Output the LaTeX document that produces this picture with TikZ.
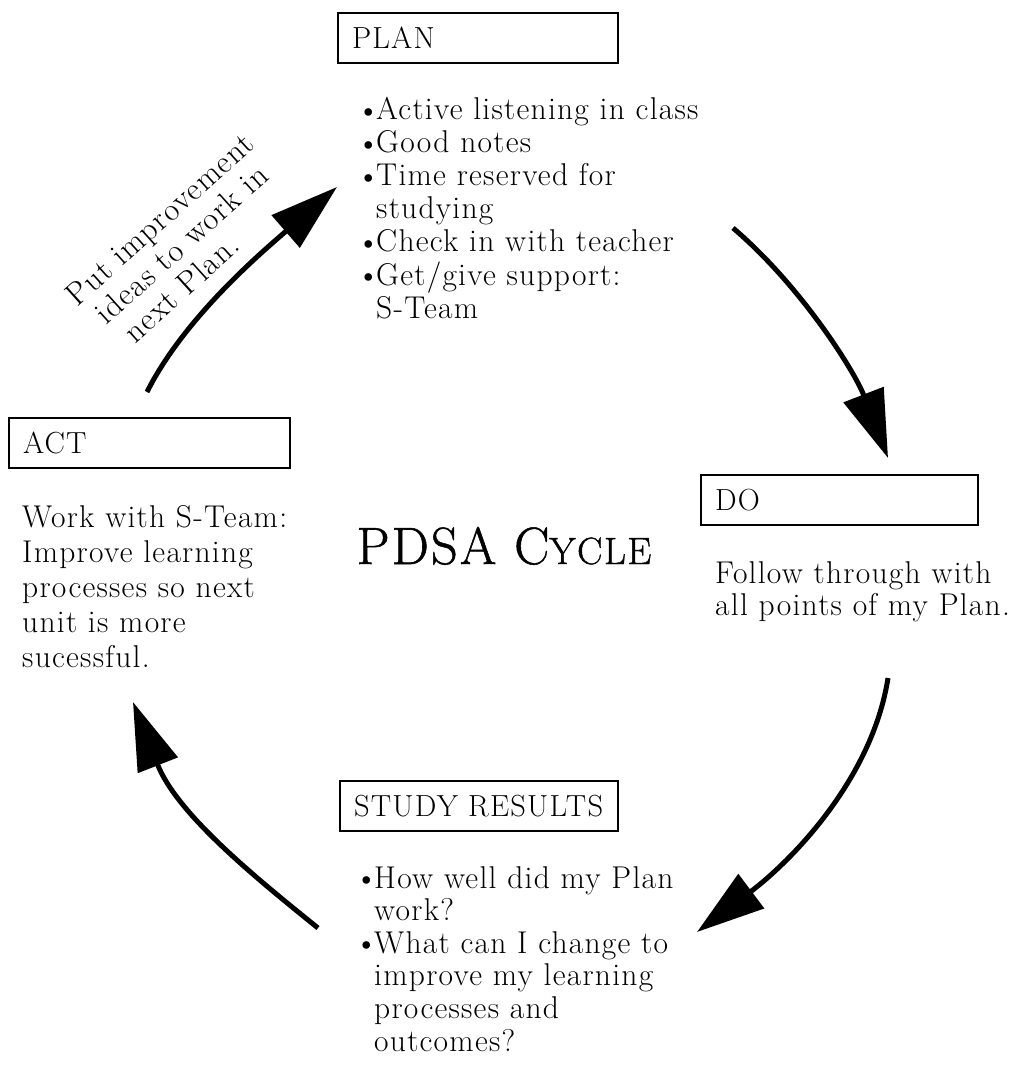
\documentclass[tikz,border=0pt]{standalone}
\usepackage{fontspec}
\setmainfont{Latin Modern Roman}[LetterSpace=4]
\usetikzlibrary{arrows.meta}
% raised bullet in a fixed-width box
\newcommand{\bul}{\makebox[20pt][l]{\fontsize{34}{34}\selectfont\raisebox{-1.5pt}{\textbullet}}}
\newcommand{\ind}{\hspace*{20pt}}
\begin{document}
\begin{tikzpicture}[x=1pt,y=-1pt,
  lbl/.style={draw, line width=1.8pt, inner xsep=14pt, inner ysep=0pt,
    minimum height=50pt, text width=#1, align=left,
    font=\fontsize{30.5}{30.5}\selectfont},
  body/.style={inner sep=0pt, anchor=base west,
    font=\fontsize{31.5}{33}\selectfont},
  cyc/.style={line width=5pt, -{Triangle[length=68pt,width=42pt]}}]
\useasboundingbox (0,0) rectangle (1018,1075);

% stage headings
\node[lbl=252pt] (plan)  at (478,38)    {\mbox{PLAN}};
\node[lbl=253pt] (act)   at (149.5,443) {\mbox{ACT}};
\node[lbl=249pt] (do)    at (839.5,500) {\mbox{DO}};
\node[lbl=250pt] (study) at (479,806)   {\mbox{STUDY RESULTS}};

% stage descriptions
\node[body] (plantext) at (356,120) {\begin{tabular}[t]{@{}l@{}}
\bul Active listening in class\\
\bul Good notes\\
\bul Time reserved for\\
\ind studying\\
\bul Check in with teacher\\
\bul Get/give support:\\
\ind S-Team
\end{tabular}};

\node[body, font=\fontsize{31.5}{35}\selectfont] (acttext) at (22,527) {\begin{tabular}[t]{@{}l@{}}
Work with S-Team:\\
Improve learning\\
processes so next\\
unit is more\\
sucessful.
\end{tabular}};

\node[body, font=\fontsize{31.5}{32}\selectfont] (dotext) at (715,583) {\begin{tabular}[t]{@{}l@{}}
Follow through with\\
all points of my Plan.
\end{tabular}};

\node[body, font=\fontsize{31.5}{32.6}\selectfont] (studytext) at (354,888) {\begin{tabular}[t]{@{}l@{}}
\bul How well did my Plan\\
\ind work?\\
\bul What can I change to\\
\ind improve my learning\\
\ind processes and\\
\ind outcomes?
\end{tabular}};

% title
\node[inner sep=0pt, anchor=base] (title) at (504,564)
  {\addfontfeatures{FakeBold=1}{\fontsize{52.5}{52.5}\selectfont PDSA C}{\fontsize{38}{38}\selectfont YCLE}};

% cycle arrows
\coordinate (a1s) at (147,392);  \coordinate (a1e) at (337,187);
\coordinate (a2s) at (733,228);  \coordinate (a2e) at (888,458);
\coordinate (a3s) at (888,678);  \coordinate (a3e) at (697,932);
\coordinate (a4s) at (318,928);  \coordinate (a4e) at (133,702);
\draw[cyc] (a1s) .. controls (184,318) and (262,252) .. (a1e);
\draw[cyc] (a2s) .. controls (800,285) and (854,370) .. (a2e);
\draw[cyc] (a3s) .. controls (872,780) and (790,862) .. (a3e);
\draw[cyc] (a4s) .. controls (256,878) and (177,814) .. (a4e);

% label along the act-to-plan arrow
\node[body, font=\fontsize{32}{33}\selectfont, rotate=42] (actlabel) at (77,308)
  {\begin{tabular}[t]{@{}l@{}}
Put improvement\\
\hspace*{10pt}ideas to work in\\
\hspace*{19pt}next Plan.
\end{tabular}};
\end{tikzpicture}
\end{document}
